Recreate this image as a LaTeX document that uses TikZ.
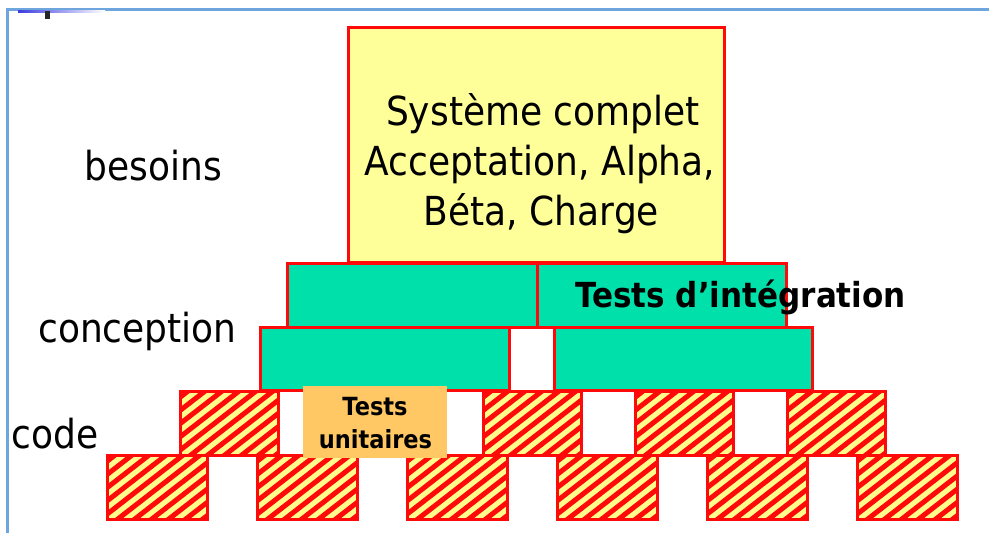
\documentclass[tikz,border=0pt]{standalone}
\usepackage{fontspec}
\setmainfont{DejaVu Sans}[FakeStretch=0.9]
\definecolor{edgered}{RGB}{255,10,10}
\definecolor{boxyellow}{RGB}{255,255,153}
\definecolor{hatchyellow}{RGB}{255,252,140}
\definecolor{intgreen}{RGB}{0,224,170}
\definecolor{unitorange}{RGB}{255,200,100}
\definecolor{framebl}{RGB}{110,165,220}
\definecolor{rulebl}{RGB}{60,60,225}
\tikzset{
  boxedge/.style={draw=edgered, line width=3pt},
  lbl/.style={inner sep=0pt, font=\fontsize{40}{50}\selectfont},
  boldlbl/.style={inner sep=0pt, font=\bfseries\fontsize{34.5}{40}\selectfont},
  unitlbl/.style={inner sep=0pt, font=\bfseries\fontsize{25}{33}\selectfont},
}
% striped brick: x, y (top-left), width, height
\newcommand\hatchbox[4]{%
  \begin{scope}
    \clip (#1,#2) rectangle ++(#3,#4);
    \fill[hatchyellow] (#1,#2) rectangle ++(#3,#4);
    \foreach \k in {-95,-78,...,120}
      \draw[edgered, line width=5pt] (#1+\k,#2+#4+3) -- ++(90,-70);
  \end{scope}
  \draw[boxedge] (#1,#2) rectangle ++(#3,#4);
}
\begin{document}
\begin{tikzpicture}[x=1pt,y=-1pt]
\useasboundingbox (0,0) rectangle (989,533);
\fill[white] (0,0) rectangle (989,533);

% slide frame
\draw[framebl, line width=2.5pt] (7.5,533) -- (7.5,9.5) -- (989,9.5);
\shade[left color=rulebl, right color=white] (18,10.5) rectangle (105,12.5);
\fill[black!85] (45,11) rectangle (50,19);

% code level: bricks
\foreach \x in {107,257,407,557,707,857} \hatchbox{\x}{455}{100}{64};
\foreach \x in {180,332,483,635,787} \hatchbox{\x}{391}{98}{64};

% conception level
\filldraw[fill=intgreen, boxedge] (260,327) rectangle (509,390);
\filldraw[fill=intgreen, boxedge] (554,327) rectangle (812,390);
\filldraw[fill=intgreen, boxedge] (287,263) rectangle (537,327);
\filldraw[fill=intgreen, boxedge] (537,263) rectangle (786,327);

% requirements level
\filldraw[fill=boxyellow, boxedge] (348,27) rectangle (724,262);
\node[lbl, anchor=base] (sys1) at (543,125) {Système complet};
\node[lbl, anchor=base] (sys2) at (540,175) {Acceptation, Alpha,};
\node[lbl, anchor=base] (sys3) at (541.5,225) {Béta, Charge};

% level names
\node[lbl, anchor=base] (besoins) at (153.5,180) {besoins};
\node[lbl, anchor=base] (conception) at (137.5,342) {conception};
\node[lbl, anchor=base] (code) at (55,448) {code};

% unit tests tag
\fill[unitorange] (303,386) rectangle (447,458);
\node[unitlbl, anchor=base] (tu1) at (375,415) {Tests};
\node[unitlbl, anchor=base] (tu2) at (375.5,448) {unitaires};

% integration tests label
\node[boldlbl, anchor=base] (integ) at (740.5,307) {Tests d’intégration};
\end{tikzpicture}
\end{document}
